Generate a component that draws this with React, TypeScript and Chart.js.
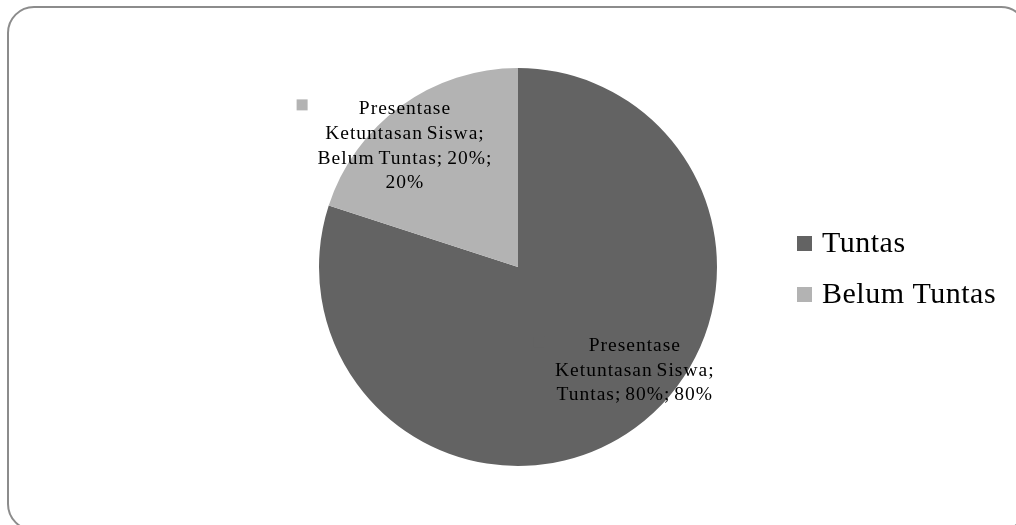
import React, { useEffect, useRef } from "react";
import { Chart, registerables } from "chart.js";

Chart.register(...registerables);

// Chart data
const seriesName = "Presentase Ketuntasan Siswa";
const categories = ["Tuntas", "Belum Tuntas"];
const values = [80, 20];
const percentLabels = ["80%", "20%"];
const sliceColors = ["#636363", "#b3b3b3"];

// Data label placement inside each slice: angle shift from slice middle (deg), radius fraction, wrap width
const labelAngleShift = [-12.8, -6.8];
const labelRadiusFrac = [0.78, 0.836];
const labelWrapWidth = [180, 190];

const SERIF = '"Liberation Serif", "Times New Roman", serif';

function wrapWords(ctx: CanvasRenderingContext2D, text: string, maxW: number): string[] {
  const words = text.split(" ");
  const lines: string[] = [];
  let cur = "";
  for (const w of words) {
    const test = cur ? cur + " " + w : w;
    if (cur && ctx.measureText(test).width > maxW) {
      lines.push(cur);
      cur = w;
    } else {
      cur = test;
    }
  }
  if (cur) lines.push(cur);
  return lines;
}

// Rounded outer frame behind the chart
const framePlugin = {
  id: "outerFrame",
  beforeDraw(chart: any) {
    const ctx = chart.ctx as CanvasRenderingContext2D;
    ctx.save();
    ctx.fillStyle = "#ffffff";
    ctx.fillRect(0, 0, chart.width, chart.height);
    ctx.beginPath();
    (ctx as any).roundRect(8, 7, 1019, 523, 26);
    ctx.strokeStyle = "#8c8c8c";
    ctx.lineWidth = 2;
    ctx.stroke();
    ctx.restore();
  },
};

// Data labels: "series; category; value; percent" with a small colour key
const sliceLabelPlugin = {
  id: "sliceLabels",
  afterDatasetsDraw(chart: any) {
    const ctx = chart.ctx as CanvasRenderingContext2D;
    const meta = chart.getDatasetMeta(0);
    ctx.save();
    ctx.font = `19.5px ${SERIF}`;
    (ctx as any).letterSpacing = "1px";
    (ctx as any).wordSpacing = "-2px";
    ctx.fillStyle = "#000000";
    ctx.textAlign = "center";
    ctx.textBaseline = "alphabetic";
    const lh = 24.7;
    const capHalf = 6.5;
    meta.data.forEach((arc: any, i: number) => {
      const p = arc.getProps(["x", "y", "startAngle", "endAngle", "outerRadius"], true);
      const mid = (p.startAngle + p.endAngle) / 2 + (labelAngleShift[i] * Math.PI) / 180;
      const r = p.outerRadius * labelRadiusFrac[i];
      const cx = p.x + Math.cos(mid) * r;
      const cy = p.y + Math.sin(mid) * r;
      const text = `${seriesName}; ${categories[i]}; ${percentLabels[i]}; ${Math.round(values[i])}%`;
      const lines = wrapWords(ctx, text, labelWrapWidth[i]);
      const first = cy - ((lines.length - 1) * lh) / 2 + capHalf;
      let blockW = 0;
      lines.forEach((ln) => (blockW = Math.max(blockW, ctx.measureText(ln).width)));
      lines.forEach((ln, k) => ctx.fillText(ln, cx, first + k * lh));
      // colour key left of the block
      ctx.fillStyle = sliceColors[i];
      ctx.fillRect(cx - blockW / 2 - 21, first - 15, 11, 11);
      ctx.fillStyle = "#000000";
    });
    ctx.restore();
  },
};

// Legend on the right
const sideLegendPlugin = {
  id: "sideLegend",
  afterDraw(chart: any) {
    const ctx = chart.ctx as CanvasRenderingContext2D;
    const area = chart.chartArea;
    const x0 = area.right + 61;
    const y0 = 252;
    const rowH = 51;
    ctx.save();
    ctx.font = `30px ${SERIF}`;
    (ctx as any).letterSpacing = "0.5px";
    ctx.textAlign = "left";
    ctx.textBaseline = "alphabetic";
    categories.forEach((c, i) => {
      const by = y0 + i * rowH;
      ctx.fillStyle = sliceColors[i];
      ctx.fillRect(x0, by - 16, 15, 15);
      ctx.fillStyle = "#000000";
      ctx.fillText(c, x0 + 25, by);
    });
    ctx.restore();
  },
};

export default function App() {
  const ref = useRef<HTMLCanvasElement>(null);

  useEffect(() => {
    if (!ref.current) return;
    const chart = new Chart(ref.current, {
      type: "pie",
      data: {
        labels: categories,
        datasets: [
          {
            label: seriesName,
            data: values,
            backgroundColor: sliceColors,
            borderWidth: 0,
          },
        ],
      },
      options: {
        animation: false,
        responsive: false,
        maintainAspectRatio: false,
        layout: { padding: { left: 300, right: 280, top: 68, bottom: 59 } },
        plugins: {
          legend: { display: false },
          tooltip: { enabled: false },
        },
      },
      plugins: [framePlugin, sliceLabelPlugin, sideLegendPlugin],
    });
    return () => chart.destroy();
  }, []);

  return (
    <div style={{ position: "fixed", left: 0, top: 0, width: 1016, height: 525, background: "#fff" }}>
      <canvas ref={ref} width={1016} height={525} style={{ display: "block", width: 1016, height: 525 }} />
    </div>
  );
}
